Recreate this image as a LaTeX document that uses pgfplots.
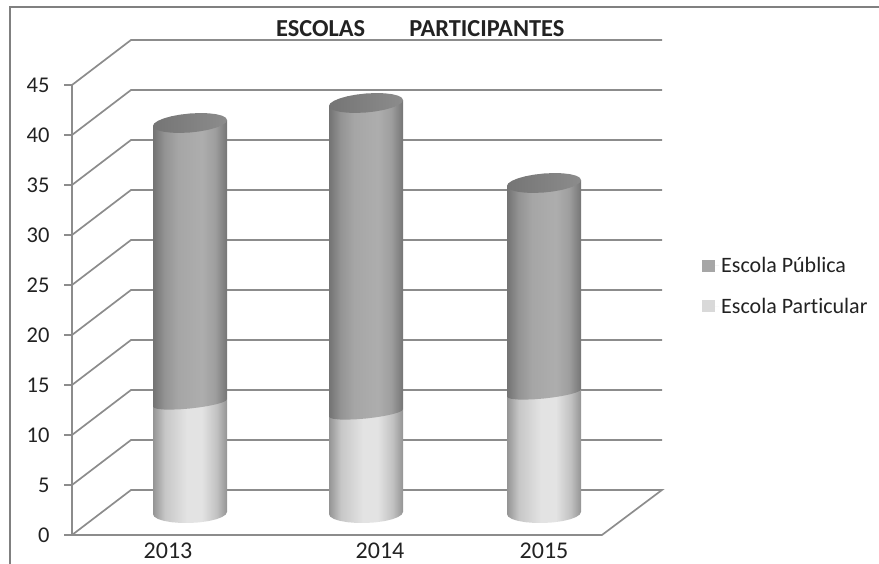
\documentclass[border=0pt]{standalone}
\usepackage{pgfplots}
\usepackage{pgfplotstable}
\usepackage{fontspec}
\setmainfont[Ligatures=NoCommon]{Carlito}
\pgfplotsset{compat=1.18}

\definecolor{wall}{HTML}{8C8C8C}
\definecolor{ink}{HTML}{222222}
\definecolor{capA}{HTML}{757575}
\definecolor{capB}{HTML}{8C8C8C}

\pgfplotsset{square legend/.style={legend image code/.code={\fill[##1] (0pt,-6pt) rectangle (13pt,6pt);\path (0pt,0pt) -- (17pt,0pt);}}}

% horizontal shadings of the two cylinder parts
\pgfdeclarehorizontalshading{darkcyl}{100bp}{
  color(0bp)=(black!55); color(25bp)=(black!55); color(33bp)=(black!42); color(42bp)=(black!35);
  color(58bp)=(black!32); color(67bp)=(black!38); color(75bp)=(black!54); color(100bp)=(black!54)}
\pgfdeclarehorizontalshading{lightcyl}{100bp}{
  color(0bp)=(black!42); color(25bp)=(black!42); color(33bp)=(black!22);
  color(48bp)=(black!11); color(58bp)=(black!11); color(68bp)=(black!24); color(75bp)=(black!42); color(100bp)=(black!42)}

% side of a cylinder part: front curve at the lower end, chord at the upper end
\pgfplotstableread{
c s f
-1 0 0
-.966 -.259 0
-.866 -.5 0
-.707 -.707 0
-.5 -.866 0
-.259 -.966 0
0 -1 0
.259 -.966 0
.5 -.866 0
.707 -.707 0
.866 -.5 0
.966 -.259 0
1 0 0
1 0 1
-1 0 1
}\sideoutline

% top face of a cylinder
\pgfplotstableread{
c s
-1 0
-.966 -.259
-.866 -.5
-.707 -.707
-.5 -.866
-.259 -.966
0 -1
.259 -.966
.5 -.866
.707 -.707
.866 -.5
.966 -.259
1 0
.966 .259
.866 .5
.707 .707
.5 .866
.259 .966
0 1
-.259 .966
-.5 .866
-.707 .707
-.866 .5
-.966 .259
}\capoutline

% side part: #1 shading, #2 centre, #3 low value, #4 high value,
% #5 curve depth at the low end, #6 slope at the low end, #7 slope at the high end
\newcommand{\CylSide}[7]{%
  \addplot[draw=none,shade,shading=#1,forget plot] table[
    x expr={#2+37*\thisrow{c}},
    y expr={#3+(#4-#3)*\thisrow{f}+(#5*\thisrow{s}*(1-\thisrow{f})+37*\thisrow{c}*(#6+(#7-#6)*\thisrow{f}))/10}
  ]{\sideoutline};}
% stacked cylinder: #1 centre, #2 Escola Particular, #3 total with Escola Publica
\newcommand{\Cylinder}[3]{%
  \CylSide{lightcyl}{#1}{0}{#2}{10}{.03}{.1}
  \CylSide{darkcyl}{#1}{#2}{#3}{5.5}{.1}{.08}
  \addplot[draw=none,left color=capA,right color=capB,forget plot] table[
    x expr={#1+37*\thisrow{c}},
    y expr={#3+(9.5*\thisrow{s}+37*\thisrow{c}*.08)/10}
  ]{\capoutline};}

\begin{document}
\begin{tikzpicture}[x=1pt,y=1pt]
\useasboundingbox (0,0) rectangle (879,564);

% outer frame, open on the right
\draw[color=black!50,line width=1.7pt] (10,0) -- (10,557) -- (879,557);

% walls, floor and value axis
\begin{axis}[
  at={(72pt,29pt)},anchor=south west,
  scale only axis,width=530pt,height=450pt,
  xmin=72,xmax=602,ymin=0,ymax=45,
  clip=false,
  axis lines=left,
  axis line style={-,draw=wall,line width=1.7pt},
  ytick={0,5,...,45},
  xtick={168,380,544},
  xticklabels={2013,2014,2015},
  tick align=outside,
  major tick length=8pt,
  y tick style={draw=wall,line width=1.7pt},
  x tick style={draw=none},
  tick label style={text=ink},
  yticklabel style={font=\fontsize{22.5}{24}\selectfont,xshift=-11pt},
  xticklabel style={font=\fontsize{24}{26}\selectfont,yshift=1.5pt,inner sep=1pt},
  /pgf/number format/assume math mode=true,
  unbounded coords=jump,
]
\addplot[draw=wall,line width=1.7pt,mark=none] table {
x y
72 5
131 9.5
662 9.5
72 nan
72 10
131 14.5
662 14.5
72 nan
72 15
131 19.5
662 19.5
72 nan
72 20
131 24.5
662 24.5
72 nan
72 25
131 29.5
662 29.5
72 nan
72 30
131 34.5
662 34.5
72 nan
72 35
131 39.5
662 39.5
72 nan
72 40
131 44.5
662 44.5
72 nan
72 45
131 49.5
662 49.5
72 nan
72 0
131 4.5
662 4.5
602 0
72 0
};
\end{axis}

% cylinders, placed on the middle of the floor
\begin{axis}[
  at={(0pt,51pt)},anchor=south west,
  scale only axis,width=879pt,height=450pt,
  xmin=0,xmax=879,ymin=0,ymax=45,
  clip=false,
  hide axis,
  legend style={
    at={(axis cs:702,22.7)},anchor=west,
    draw=none,fill=none,
    font=\fontsize{22}{24}\selectfont,text=ink,
    row sep=20pt,
    inner sep=0pt,
  },
  legend cell align=left,
]
\Cylinder{190}{11}{39}
\Cylinder{366}{10}{41}
\Cylinder{544}{12}{33}

\addlegendimage{square legend,fill=black!35,draw=none}
\addlegendentry{Escola Pública}
\addlegendimage{square legend,fill=black!15,draw=none}
\addlegendentry{Escola Particular}
\end{axis}

\node[font=\fontsize{24.4}{26}\selectfont\bfseries,text=ink,anchor=base west,inner sep=0pt]
  at (276,527) {ESCOLAS\hspace{44pt}PARTICIPANTES};
\end{tikzpicture}
\end{document}
